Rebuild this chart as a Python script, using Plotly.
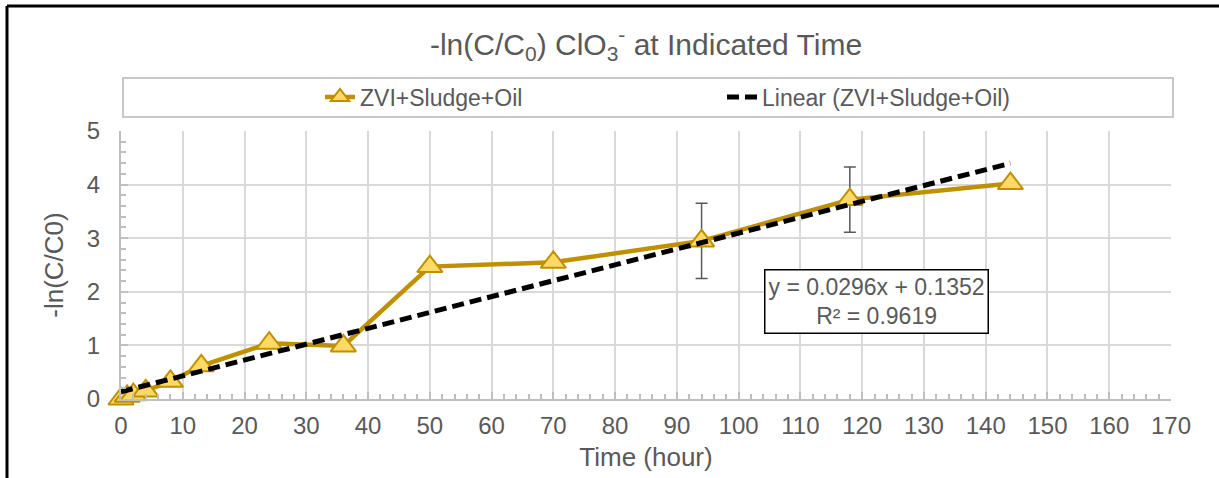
import plotly.graph_objects as go

# ---- data ----
time_h = [0, 1, 2, 4, 8, 13, 24, 36, 50, 70, 94, 118, 144]
neg_ln_c = [0.0, 0.05, 0.08, 0.15, 0.33, 0.62, 1.04, 0.99, 2.47, 2.55, 2.95, 3.72, 4.02]
err = [0, 0, 0, 0, 0, 0, 0, 0, 0, 0, 0.70, 0.61, 0]
slope = 0.0296
intercept = 0.1352
r2 = 0.9619
series_name = "ZVI+Sludge+Oil"
trend_name = "Linear (ZVI+Sludge+Oil)"

trend_x = [time_h[0], time_h[-1]]
trend_y = [slope * v + intercept for v in trend_x]

FONT = "Liberation Sans, Arial, sans-serif"
GREY = "#595959"

fig = go.Figure()
fig.add_trace(go.Scatter(
    x=time_h, y=neg_ln_c, name=series_name, mode="lines+markers",
    line=dict(color="#BF9000", width=4.5),
    marker=dict(symbol="triangle-up", size=22, color="#FFD966",
                line=dict(color="#BF9000", width=2)),
    error_y=dict(type="data", array=err, visible=True, color=GREY,
                 thickness=1.5, width=6),
    cliponaxis=False,
))
fig.add_trace(go.Scatter(
    x=trend_x, y=trend_y, name=trend_name, mode="lines",
    line=dict(color="black", width=5, dash="12px,6px"),
    cliponaxis=False,
))

L, R, T, B = 121, 48, 131, 79
W, H = 1219, 478
pw, ph = W - L - R, H - T - B
def px(xp):
    return (xp - L) / pw
def py(yp):
    return (H - B - yp) / ph

fig.update_layout(
    width=W, height=H,
    margin=dict(l=L, r=R, t=T, b=B),
    paper_bgcolor="white", plot_bgcolor="white",
    font=dict(family=FONT, color=GREY, size=23),
    title=dict(text="-ln(C/C<sub>0</sub>) ClO<sub>3</sub><sup>-</sup> at Indicated Time",
               x=0.53, xanchor="center", y=1 - 44 / H, yanchor="middle",
               font=dict(size=30, color=GREY)),
    showlegend=True,
    legend=dict(orientation="h", x=px(320), xanchor="left", y=py(97), yanchor="middle",
                bgcolor="rgba(0,0,0,0)", borderwidth=0,
                entrywidth=357, entrywidthmode="pixels",
                font=dict(size=23, color=GREY)),
    xaxis=dict(range=[0, 170], dtick=10, tick0=0,
               showgrid=True, gridcolor="#D9D9D9", gridwidth=2,
               showline=True, linecolor="#BFBFBF", linewidth=2,
               ticks="inside", ticklen=7, tickcolor="#BFBFBF", tickwidth=2,
               minor=dict(dtick=2, ticks="inside", ticklen=5, tickcolor="#BFBFBF",
                          tickwidth=1.5, showgrid=False),
               tickfont=dict(size=24, color=GREY), ticklabelstandoff=4,
               title=dict(text="Time (hour)", font=dict(size=26, color=GREY), standoff=10),
               zeroline=False),
    yaxis=dict(range=[0, 5], dtick=1, tick0=0,
               showgrid=True, gridcolor="#D9D9D9", gridwidth=2,
               showline=True, linecolor="#BFBFBF", linewidth=2,
               ticks="inside", ticklen=7, tickcolor="#BFBFBF", tickwidth=2,
               minor=dict(dtick=0.2, ticks="inside", ticklen=5, tickcolor="#BFBFBF",
                          tickwidth=1.5, showgrid=False),
               tickfont=dict(size=24, color=GREY), ticklabelstandoff=14,
               title=dict(text="-ln(C/C0)", font=dict(size=26, color=GREY), standoff=16),
               zeroline=False),
    shapes=[
        dict(type="rect", xref="paper", yref="paper",
             x0=px(123), x1=px(1173), y0=py(117), y1=py(78),
             line=dict(color="#C8C8C8", width=2), fillcolor="rgba(0,0,0,0)", layer="below"),
        dict(type="line", xref="paper", yref="paper",
             x0=px(7), x1=px(7), y0=py(6), y1=py(490),
             line=dict(color="black", width=3)),
        dict(type="line", xref="paper", yref="paper",
             x0=px(7), x1=px(1230), y0=py(6), y1=py(6),
             line=dict(color="black", width=3)),
    ],
    annotations=[
        dict(text=f"y = {slope:.4f}x + {intercept:.4f}<br>R² = {r2:.4f}",
             xref="x", yref="y", x=122.3, y=1.81, showarrow=False,
             font=dict(size=23, color=GREY), bgcolor="white",
             bordercolor="black", borderwidth=1.5, borderpad=3, align="center"),
    ],
)

fig.write_html("out.html", config={"displayModeBar": False},
               post_script="document.body.style.margin='0px';")
